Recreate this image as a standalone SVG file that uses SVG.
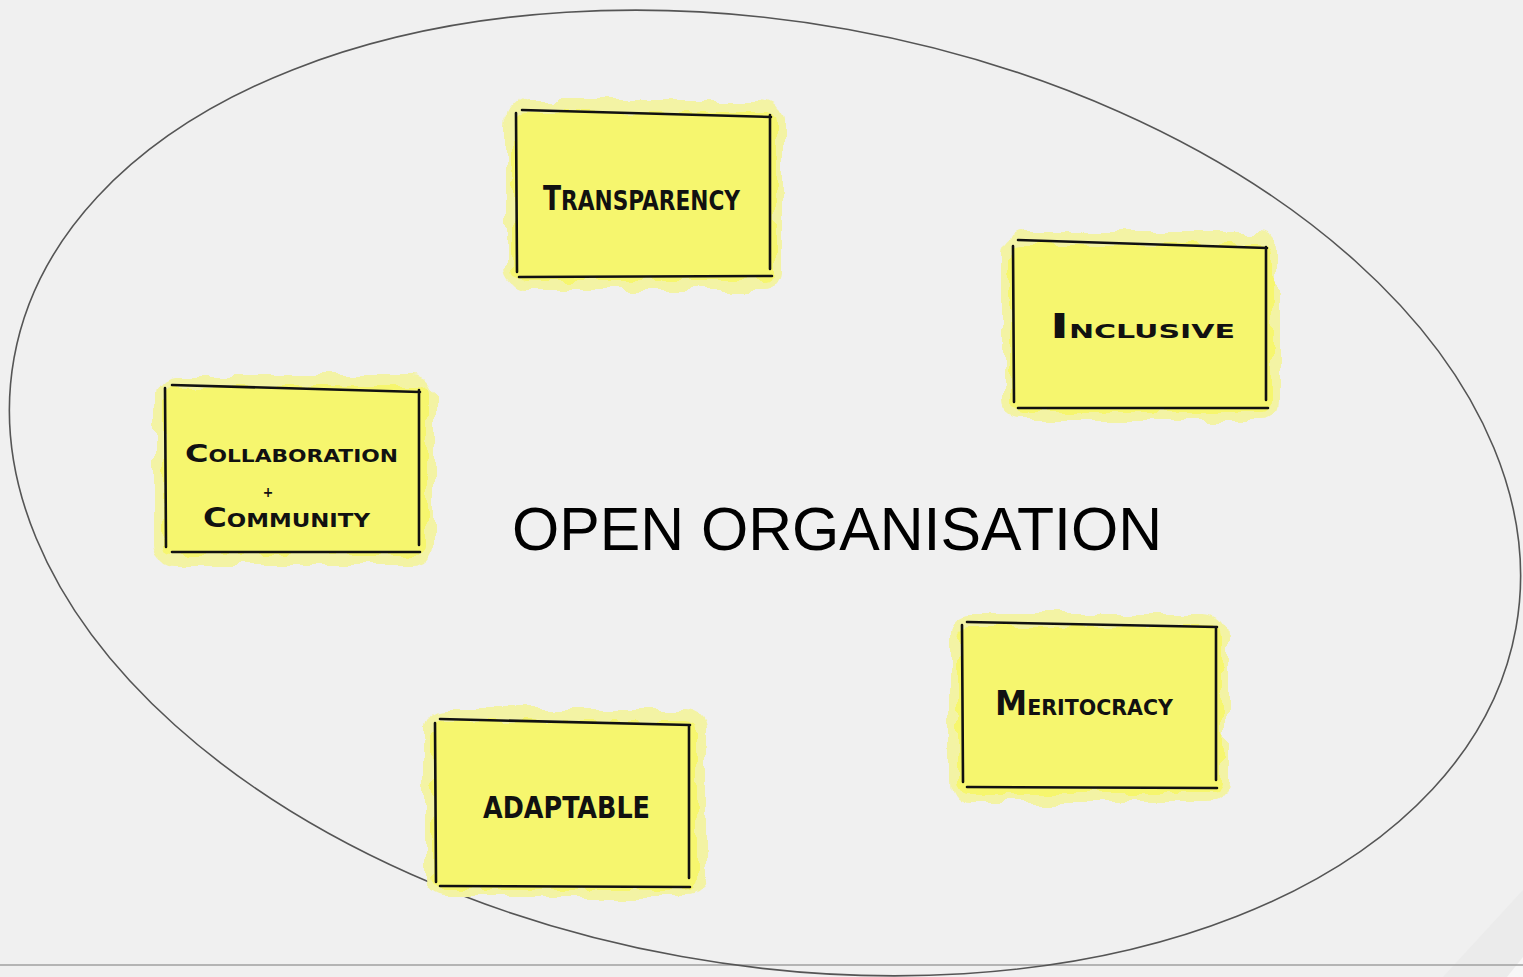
<svg xmlns="http://www.w3.org/2000/svg" width="1523" height="977" viewBox="0 0 1523 977">
  <defs>
    <filter id="rough" x="-10%" y="-10%" width="120%" height="120%">
      <feTurbulence type="fractalNoise" baseFrequency="0.035" numOctaves="2" seed="3" result="n"/>
      <feDisplacementMap in="SourceGraphic" in2="n" scale="18" xChannelSelector="R" yChannelSelector="G"/>
    </filter>
    <filter id="rough2" x="-10%" y="-10%" width="120%" height="120%">
      <feTurbulence type="fractalNoise" baseFrequency="0.05" numOctaves="2" seed="7" result="n"/>
      <feDisplacementMap in="SourceGraphic" in2="n" scale="14" xChannelSelector="R" yChannelSelector="G"/>
    </filter>
  </defs>
  <style>
    .halo { fill: #f3f3a4; filter: url(#rough); }
    .hl { fill: #f6f66e; filter: url(#rough2); }
    .edge { fill: none; stroke: #111; stroke-width: 2.6; stroke-linecap: round; }
    .hand { font-family: "Liberation Sans Narrow", "DejaVu Sans Condensed", "Liberation Sans", sans-serif; font-weight: bold; fill: #111; }
    .title { font-family: "Liberation Sans", "Noto Sans", sans-serif; font-size: 62px; fill: #000; }
  </style>
  <rect x="0" y="0" width="1523" height="977" fill="#f0f0f0"/>
  <polygon points="1443,977 1523,890 1523,977" fill="#ebebeb"/>
  <polygon points="1507,977 1523,957 1523,977" fill="#f7f7f7"/>
  <line x1="0" y1="965" x2="1523" y2="965" stroke="#a0a0a0" stroke-width="1.5"/>

  <g id="boundary">
    <ellipse cx="765" cy="493" rx="763" ry="471" transform="rotate(10.2 765 493)" fill="none" stroke="#555" stroke-width="1.6"/>
  </g>

  <g id="title">
    <text class="title" x="512" y="550" textLength="650" lengthAdjust="spacingAndGlyphs">OPEN ORGANISATION</text>
  </g>

  <g id="transparency">
    <rect class="halo" x="506" y="100" width="278" height="190" rx="20"/>
    <rect class="hl" x="514" y="112" width="262" height="168" rx="10"/>
    <path class="edge" d="M516,113 L517,272 M522,110 L771,117 M770,115 L770,269 M519,277 L772,276"/>
    <text class="hand" x="543" y="210" font-size="27" textLength="197" lengthAdjust="spacingAndGlyphs"><tspan font-size="33">T</tspan>RANSPARENCY</text>
  </g>

  <g id="inclusive">
    <rect class="halo" x="1002" y="232" width="276" height="188" rx="20"/>
    <rect class="hl" x="1010" y="244" width="262" height="168" rx="10"/>
    <path class="edge" d="M1013,246 L1014,402 M1018,240 L1267,248 M1266,247 L1266,400 M1018,408 L1268,408"/>
    <text class="hand" x="1050" y="338" font-size="20" textLength="185" lengthAdjust="spacingAndGlyphs"><tspan font-size="34">I</tspan>NCLUSIVE</text>
  </g>

  <g id="collaboration">
    <rect class="halo" x="155" y="375" width="280" height="190" rx="20"/>
    <rect class="hl" x="163" y="387" width="264" height="168" rx="10"/>
    <path class="edge" d="M165,388 L166,547 M172,385 L420,392 M419,390 L419,545 M172,552 L420,552"/>
    <text class="hand" x="185" y="462" font-size="17" textLength="213" lengthAdjust="spacingAndGlyphs"><tspan font-size="25">C</tspan>OLLABORATION</text>
    <text class="hand" x="268" y="497" font-size="14" text-anchor="middle">+</text>
    <text class="hand" x="203" y="527" font-size="19" textLength="167" lengthAdjust="spacingAndGlyphs"><tspan font-size="27">C</tspan>OMMUNITY</text>
  </g>

  <g id="meritocracy">
    <rect class="halo" x="950" y="614" width="278" height="188" rx="20"/>
    <rect class="hl" x="958" y="626" width="264" height="168" rx="10"/>
    <path class="edge" d="M962,625 L963,782 M967,622 L1217,627 M1216,627 L1216,780 M967,787 L1217,788"/>
    <text class="hand" x="995" y="715" font-size="21" textLength="178" lengthAdjust="spacingAndGlyphs"><tspan font-size="33">M</tspan>ERITOCRACY</text>
  </g>

  <g id="adaptable">
    <rect class="halo" x="425" y="709" width="280" height="188" rx="20"/>
    <rect class="hl" x="433" y="721" width="264" height="168" rx="10"/>
    <path class="edge" d="M435,723 L436,882 M440,719 L690,725 M689,725 L689,878 M440,886 L690,887"/>
    <text class="hand" x="483" y="818" font-size="30" textLength="167" lengthAdjust="spacingAndGlyphs">ADAPTABLE</text>
  </g>
</svg>
